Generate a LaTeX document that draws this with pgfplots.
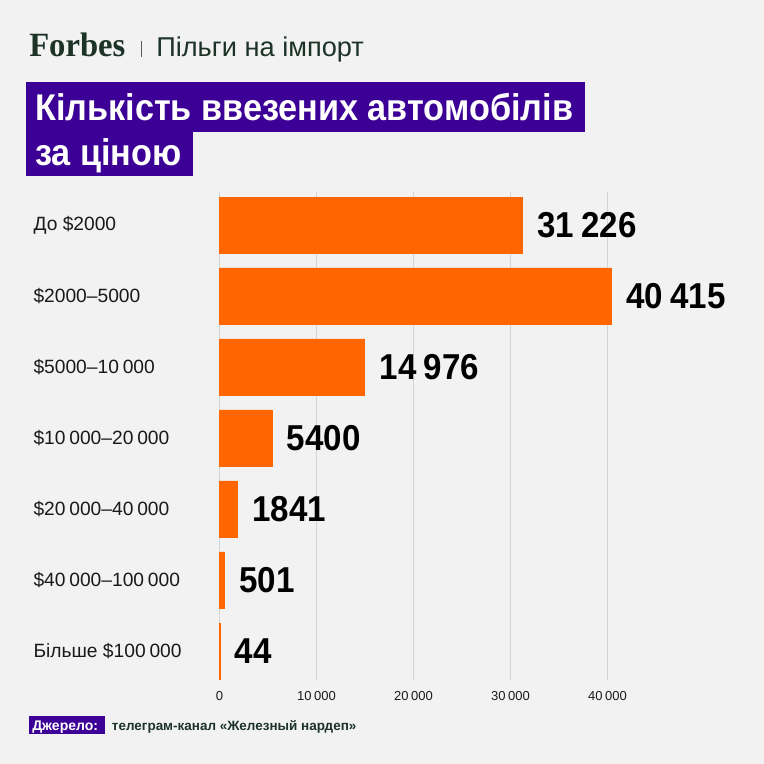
\documentclass[border=0pt]{standalone}
\usepackage{pgfplots}
\pgfplotsset{compat=1.18}
\usepackage{fontspec}
\setmainfont{Liberation Sans}
\newfontfamily\logofont[FakeStretch=0.96]{Liberation Serif}
\newfontfamily\titlefont[FakeStretch=0.92]{Liberation Sans}
\newfontfamily\valfont[FakeStretch=0.92]{Liberation Sans}
\definecolor{bg}{HTML}{F2F2F2}
\definecolor{barc}{HTML}{FF6600}
\definecolor{purp}{HTML}{3D0096}
\definecolor{dgreen}{HTML}{1D3328}
\definecolor{txt}{HTML}{1A1A1A}
\definecolor{gridc}{HTML}{D4D4D4}
\newcommand\ts{\hspace{0.2em}}
\begin{document}
\begin{tikzpicture}[x=0.75pt,y=-0.75pt]
\fill[bg] (0,0) rectangle (764,764);
\node[anchor=base west, inner sep=0, text=dgreen, font=\logofont\bfseries\fontsize{25.5}{27}\selectfont] at (29,56.7) {Forbes};
\draw[black!65, line width=0.8pt] (141.7,40.5) -- (141.7,57);
\node[anchor=base west, inner sep=0, text=dgreen, font=\fontsize{20.4}{22}\selectfont] at (156,56.7) {Пільги на імпорт};
\fill[purp] (26,82.3) rectangle (585.3,131.7);
\fill[purp] (26,131.7) rectangle (193,175.7);
\node[anchor=base west, inner sep=0, text=white, font=\titlefont\bfseries\fontsize{27.9}{30}\selectfont] at (35,120) {Кількість ввезених автомобілів};
\node[anchor=base west, inner sep=0, text=white, font=\titlefont\bfseries\fontsize{27.9}{30}\selectfont] at (35,165.7) {за ціною};
\begin{axis}[
  at={(164.625pt,-144pt)}, anchor=north west,
  scale only axis, width=327.375pt, height=366pt,
  xmin=0, xmax=45000, ymin=-0.465, ymax=6.41, y dir=reverse,
  xbar, bar width=42pt, bar shift=0pt,
  axis line style={draw=none}, tick style={draw=none},
  xmajorgrids, grid style={gridc, line width=0.75pt},
  scaled x ticks=false,
  xtick={0,10000,20000,30000,40000},
  xticklabels={0,10\ts000,20\ts000,30\ts000,40\ts000},
  xticklabel style={font=\fontsize{9.75}{11}\selectfont, text=txt, yshift=-5pt},
  ytick={0,1,2,3,4,5,6},
  yticklabels={До \$2000,\$2000--5000,\$5000--10\ts000,\$10\ts000--20\ts000,\$20\ts000--40\ts000,\$40\ts000--100\ts000,Більше \$100\ts000},
  yticklabel style={anchor=west, xshift=-135.4pt, inner sep=0pt, font=\fontsize{14.4}{16}\selectfont, text=txt},
  /pgf/number format/assume math mode=true,
  clip=false,
  point meta=explicit symbolic,
  nodes near coords,
  every node near coord/.append style={anchor=west, inner sep=0pt, xshift=11pt, font=\valfont\bfseries\fontsize{27}{30}\selectfont, text=black},
]
\addplot[fill=barc, draw=barc, line width=0.5pt] coordinates {
(31226,0) [31\ts226]
(40415,1) [40\ts415]
(14976,2) [14\ts976]
(5400,3) [5400]
(1841,4) [1841]
(501,5) [501]
(44,6) [44]
};
\end{axis}
\fill[purp] (29.3,716) rectangle (105,734);
\node[anchor=base west, inner sep=0, text=white, font=\bfseries\fontsize{10.5}{12}\selectfont] at (32,730) {Джерело:};
\node[anchor=base west, inner sep=0, text=dgreen, font=\bfseries\fontsize{10.1}{12}\selectfont] at (111.7,730) {телеграм-канал «Железный нардеп»};
\end{tikzpicture}
\end{document}
